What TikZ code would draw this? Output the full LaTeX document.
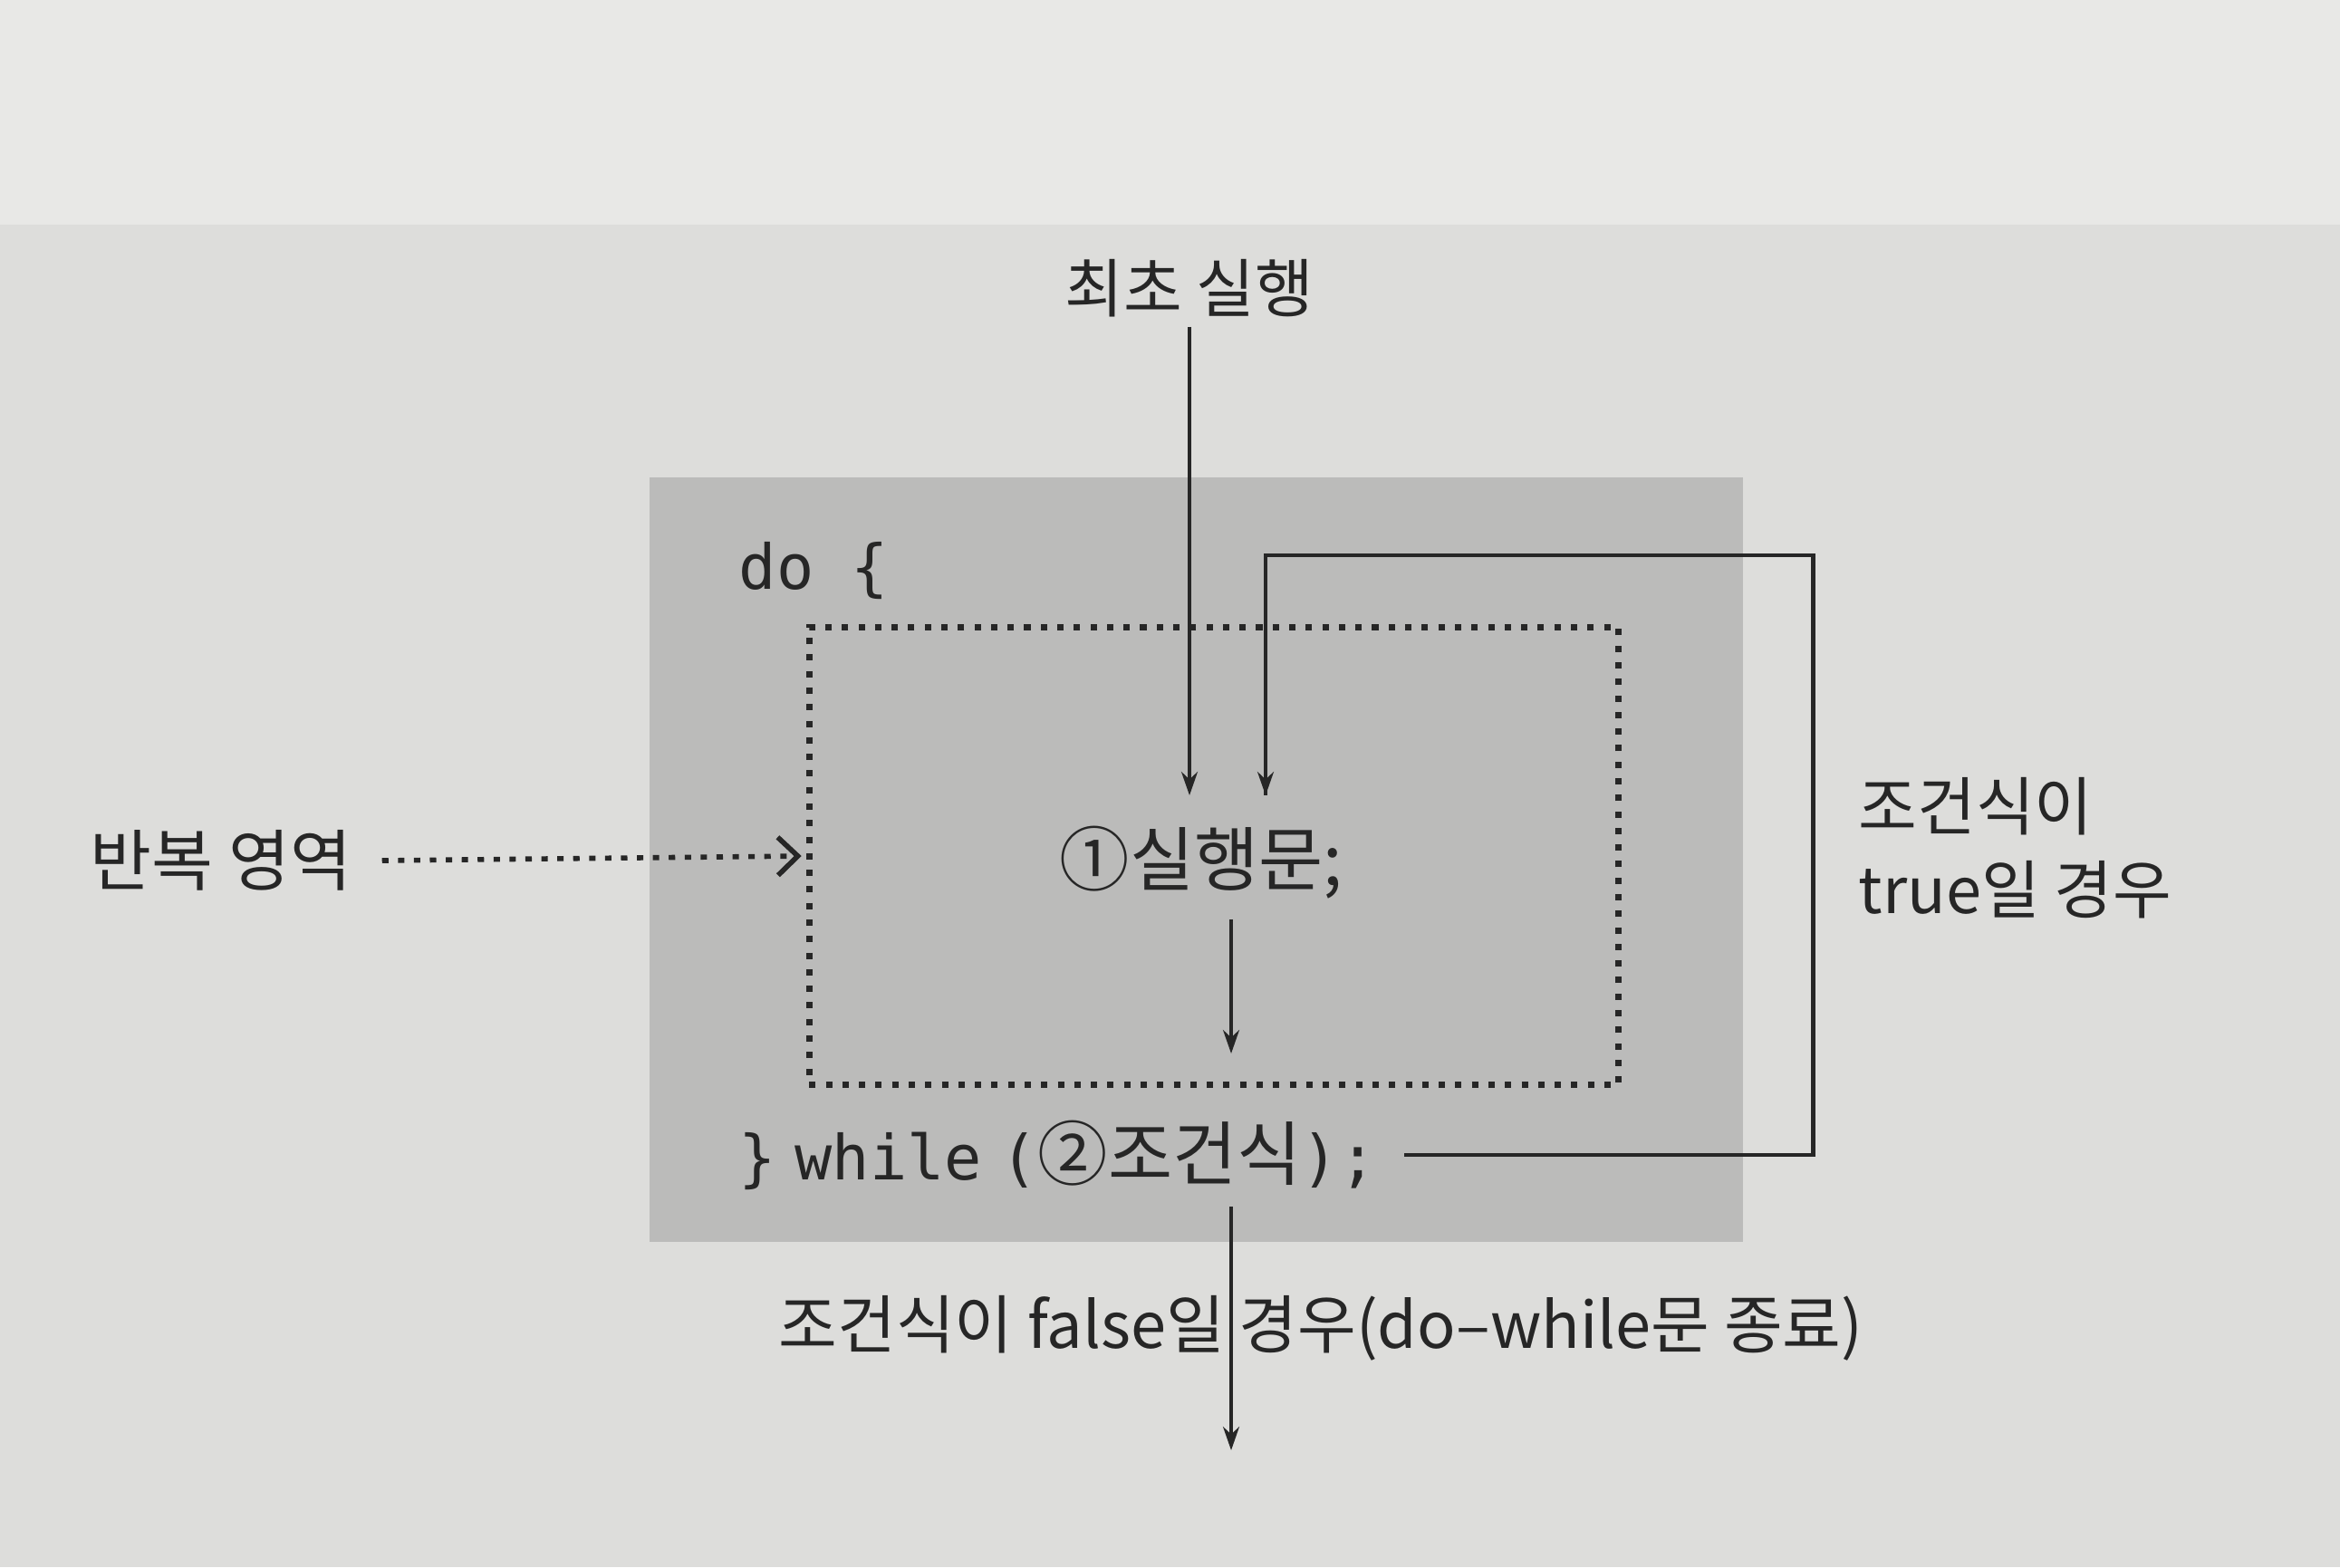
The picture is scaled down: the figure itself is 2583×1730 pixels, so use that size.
\documentclass[tikz,border=0pt]{standalone}
\usepackage{fontspec}
\setmainfont{Noto Sans CJK KR}
\newfontfamily\krfont{Noto Sans CJK KR}
\newfontfamily\codefont{DejaVu Sans Mono}
\usetikzlibrary{arrows.meta}

\definecolor{pagegray}{HTML}{DDDDDB}
\definecolor{pagetop}{HTML}{E8E8E6}
\definecolor{boxgray}{HTML}{BBBBBA}
\definecolor{ink}{HTML}{262626}

\newcommand{\krbig}{\krfont\fontsize{22pt}{26pt}\selectfont}

\tikzset{
  lbl/.style={text=ink,inner sep=0pt,font=\fontsize{20pt}{26pt}\selectfont},
  code/.style={text=ink,inner sep=0pt,font=\codefont\fontsize{19.5pt}{26pt}\selectfont},
  flow/.style={draw=ink,line width=0.9pt,-{Stealth[length=2.6mm,width=1.8mm]}},
  backline/.style={draw=ink,line width=1.4pt},
  dotbox/.style={draw=ink,line width=2pt,dash pattern=on 2pt off 3.2pt},
  dotarrow/.style={draw=ink,line width=1.6pt,dash pattern=on 2pt off 3pt,-{Straight Barb[length=2.2mm,width=4.2mm]}}
}

\begin{document}
\begin{tikzpicture}[x=0.01cm,y=-0.01cm]
  \fill[pagegray] (0,0) rectangle (2583,1730);
  \fill[pagetop] (0,0) rectangle (2583,248);
  \useasboundingbox (0,0) rectangle (2583,1730);
  \fill[boxgray] (717,527) rectangle (1924,1371);

  \node[dotbox,minimum width=8.93cm,minimum height=5.05cm] (loop) at (1340,945) {};

  \node[lbl] (first) at (1313,318) {최초 실행};
  \node[code,anchor=west] (do) at (815,630) {do\hspace{0.6em}\{};
  \node[lbl,font=\krbig] (stmt) at (1326,952) {①실행문;};
  \node[code,anchor=west] (cond) at (815,1275) {\}\hspace{0.3em}while\hspace{0.3em}({\krbig ②조건식});};
  \node[lbl,anchor=west,font=\fontsize{21pt}{26pt}\selectfont] (rep) at (99,950) {반복 영역};
  \node[lbl,anchor=west,align=left] (truelbl) at (2051,936) {조건식이\\true일 경우};
  \node[lbl] (falselbl) at (1458,1466) {조건식이 false일 경우(do–while문 종료)};

  \coordinate (in1) at (1313,878);
  \coordinate (in2) at (1397,878);
  \coordinate (ret) at (2001,613);
  \coordinate (s1) at (1359,1163);
  \coordinate (out) at (1359,1601);

  \draw[flow] (first.south) ++(0,10) -- (in1);
  \draw[backline] ([xshift=0.3cm]cond.east) -| (ret) -| (in2);
  \draw[flow] (in2 |- 0,872) -- (in2);
  \draw[flow] (stmt.south -| s1) ++(0,22) -- (s1);
  \draw[flow] (cond.south -| out) ++(0,18) -- (out);
  \draw[dotarrow] (rep.east) ++(0.33cm,0) -- ([xshift=-0.05cm]loop.west);
\end{tikzpicture}
\end{document}
